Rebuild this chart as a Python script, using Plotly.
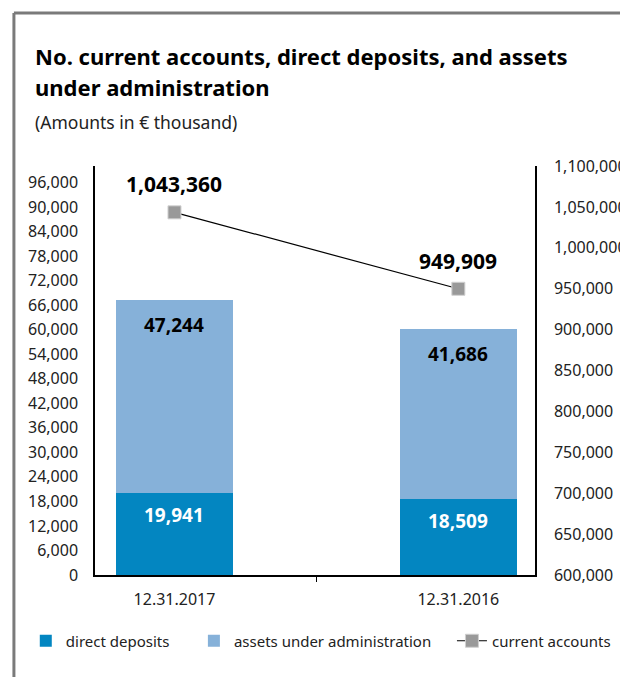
import plotly.graph_objects as go

dates = ["12.31.2017", "12.31.2016"]
direct_deposits = [19941, 18509]
assets_admin = [47244, 41686]
current_accounts = [1043360, 949909]
left_ticks = list(range(0, 96001, 6000))
right_ticks = list(range(600000, 1100001, 50000))

dark_blue = "#0386C1"
light_blue = "#86B1D9"
font_name = "Noto Sans"

# page is shown with the default 8px body margin, so the figure is 8px smaller
W, H = 620, 669
# plot area in page pixels
X0, X1, Y0, Y1 = 95, 540, 166, 575


def px(x):
    return (x - X0) / (X1 - X0)


def py(y):
    return (Y1 - y) / (Y1 - Y0)


pad = "\u00a0" * 5

fig = go.Figure()

fig.add_trace(go.Bar(
    x=dates, y=direct_deposits, name="direct deposits" + pad,
    marker=dict(color=dark_blue, line=dict(width=0)), width=0.41,
))
fig.add_trace(go.Bar(
    x=dates, y=assets_admin, name="assets under administration",
    marker=dict(color=light_blue, line=dict(width=0)), width=0.41,
))
fig.add_trace(go.Scatter(
    x=dates, y=current_accounts, name="current accounts", yaxis="y2",
    mode="lines+markers", legend="legend2",
    line=dict(color="black", width=1.2),
    marker=dict(symbol="square", size=13, color="#999999",
                line=dict(color="#d0d0d0", width=1)),
))

# value labels
annos = []
for d, dd, aa in zip(dates, direct_deposits, assets_admin):
    annos.append(dict(x=d, y=dd, text=f"{dd:,}", showarrow=False, yanchor="top",
                      yshift=-7, font=dict(size=19, color="white", weight="bold")))
    annos.append(dict(x=d, y=dd + aa, text=f"{aa:,}", showarrow=False, yanchor="top",
                      yshift=-10, font=dict(size=19, color="black", weight="bold")))
for d, ca in zip(dates, current_accounts):
    annos.append(dict(x=d, y=ca, yref="y2", text=f"{ca:,}", showarrow=False, yanchor="bottom",
                      yshift=12, font=dict(size=21, color="black", weight="bold")))

# title and subtitle
annos.append(dict(xref="paper", yref="paper", x=px(32), y=py(56), xanchor="left", yanchor="middle",
                  text="No. current accounts, direct deposits, and assets", showarrow=False,
                  font=dict(size=22, color="black", weight="bold")))
annos.append(dict(xref="paper", yref="paper", x=px(32), y=py(87), xanchor="left", yanchor="middle",
                  text="under administration", showarrow=False,
                  font=dict(size=22, color="black", weight="bold")))
annos.append(dict(xref="paper", yref="paper", x=px(32), y=py(122), xanchor="left", yanchor="middle",
                  text="(Amounts in € thousand)", showarrow=False,
                  font=dict(size=17.5, color="#222")))

fig.update_layout(
    width=W, height=H,
    barmode="stack",
    plot_bgcolor="white", paper_bgcolor="white",
    font=dict(family=font_name, size=16, color="#222"),
    margin=dict(l=X0 - 8, r=W - (X1 - 8), t=Y0 - 8, b=H - (Y1 - 8)),
    xaxis=dict(range=[-0.28, 1.27], showline=True, linecolor="black", linewidth=1.5,
               ticks="outside", tickson="boundaries", ticklen=5, tickcolor="black",
               showgrid=False, ticklabelstandoff=9, automargin=False),
    yaxis=dict(range=[0, 100000], tickvals=left_ticks, tickformat=",", showline=True,
               linecolor="black", linewidth=1.5, showgrid=False, zeroline=False,
               ticklabelstandoff=12, automargin=False),
    yaxis2=dict(range=[600000, 1100000], tickvals=right_ticks, tickformat=",",
                overlaying="y", side="right", showline=True, linecolor="black",
                linewidth=1.5, showgrid=False, zeroline=False, ticklabelstandoff=14,
                automargin=False),
    legend=dict(orientation="h", x=px(25), xanchor="left", y=py(641), yanchor="middle",
                font=dict(size=15, color="#222"), traceorder="normal"),
    legend2=dict(orientation="h", x=px(456), xanchor="left", y=py(641), yanchor="middle",
                 font=dict(size=15, color="#222")),
    annotations=annos,
    shapes=[
        dict(type="line", xref="paper", yref="paper", x0=px(13), x1=px(13),
             y0=py(13), y1=py(700), line=dict(color="#7a7a7a", width=3)),
        dict(type="line", xref="paper", yref="paper", x0=px(13), x1=px(700),
             y0=py(13), y1=py(13), line=dict(color="#7a7a7a", width=3)),
    ],
)

fig.write_html("out.html")
